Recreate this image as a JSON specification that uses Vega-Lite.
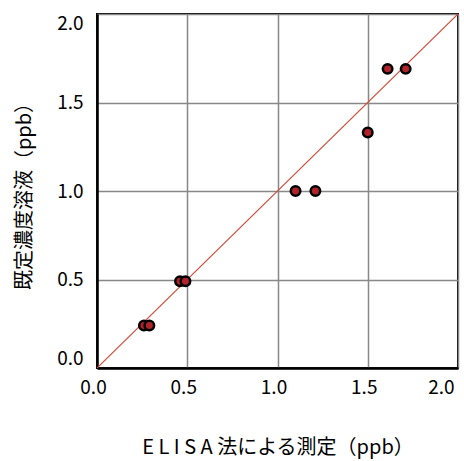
{
  "$schema": "https://vega.github.io/schema/vega-lite/v6.json",
  "width": 361,
  "height": 354,
  "autosize": "none",
  "padding": {"left": 97, "top": 14, "right": 6, "bottom": 93},
  "background": "white",
  "config": {
    "font": "Noto Sans CJK JP",
    "view": {"stroke": "black", "strokeWidth": 2},
    "axis": {
      "grid": true,
      "gridColor": "#888888",
      "gridWidth": 1.5,
      "gridOpacity": 1,
      "ticks": false,
      "domain": true,
      "domainColor": "black",
      "domainWidth": 2.5,
      "labelFont": "Noto Sans CJK JP",
      "labelFontSize": 19,
      "labelColor": "black",
      "titleFont": "Noto Sans CJK JP",
      "titleFontSize": 20,
      "titleFontWeight": "normal",
      "titleColor": "black"
    }
  },
  "layer": [
    {
      "data": {"values": [{"x": 0, "y": 0}, {"x": 2, "y": 2}]},
      "mark": {"type": "line", "color": "#d24a36", "strokeWidth": 1.2, "clip": true},
      "encoding": {
        "x": {"field": "x", "type": "quantitative"},
        "y": {"field": "y", "type": "quantitative"}
      }
    },
    {
      "data": {
        "values": [
          {"elisa": 0.26, "known": 0.24},
          {"elisa": 0.29, "known": 0.24},
          {"elisa": 0.46, "known": 0.49},
          {"elisa": 0.49, "known": 0.49},
          {"elisa": 1.10, "known": 1.0},
          {"elisa": 1.21, "known": 1.0},
          {"elisa": 1.50, "known": 1.33},
          {"elisa": 1.61, "known": 1.69},
          {"elisa": 1.71, "known": 1.69}
        ]
      },
      "mark": {"type": "point", "shape": "circle", "filled": true, "fill": "#b2222a", "stroke": "black", "strokeWidth": 2.5, "size": 90, "opacity": 1},
      "encoding": {
        "x": {
          "field": "elisa",
          "type": "quantitative",
          "scale": {"domain": [0, 2]},
          "axis": {
            "values": [0, 0.5, 1, 1.5, 2],
            "format": ".1f",
            "labelFlush": false,
            "labelOffset": -4,
            "labelAlign": {"expr": "datum.value == 2 ? 'right' : 'center'"},
            "labelPadding": 10,
            "title": "E L I S A  法による測定（ppb）",
            "titlePadding": 40
          }
        },
        "y": {
          "field": "known",
          "type": "quantitative",
          "scale": {"domain": [0, 2]},
          "axis": {
            "values": [0, 0.5, 1, 1.5, 2],
            "format": ".1f",
            "labelFlush": true,
            "labelPadding": 14,
            "title": "既定濃度溶液（ppb）",
            "titlePadding": 22
          }
        }
      }
    }
  ]
}
